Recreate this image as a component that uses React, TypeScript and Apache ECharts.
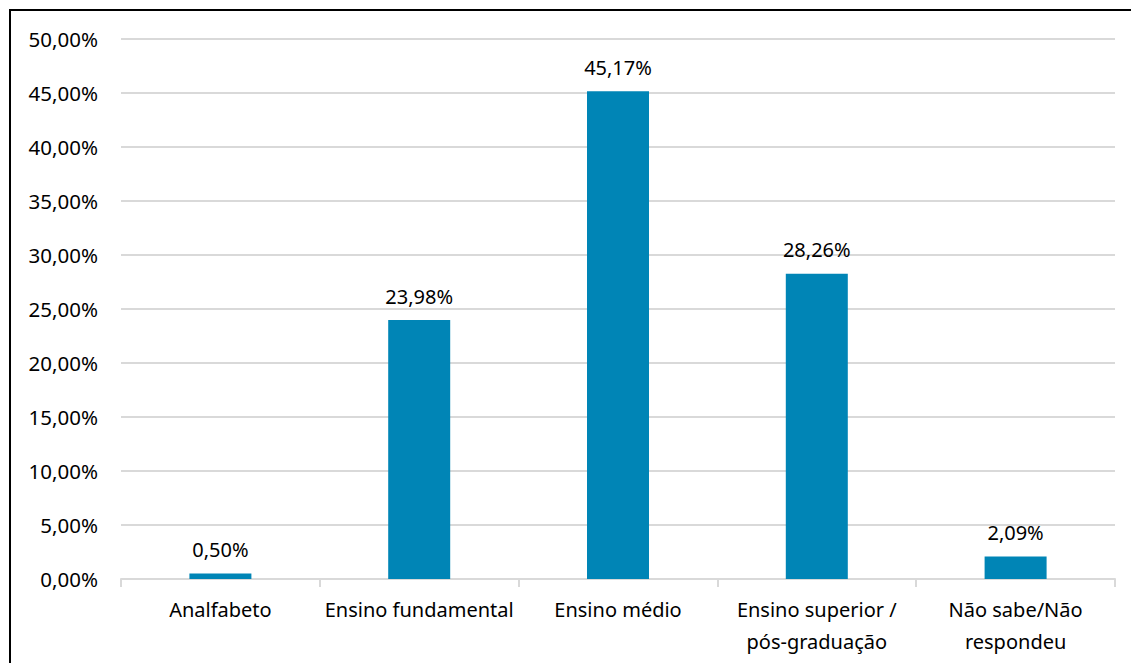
import React, { useEffect, useRef } from "react";
import * as echarts from "echarts";

const categories = [
  "Analfabeto",
  "Ensino fundamental",
  "Ensino médio",
  "Ensino superior /\npós-graduação",
  "Não sabe/Não\nrespondeu",
];
const values = [0.5, 23.98, 45.17, 28.26, 2.09];
const yTicks = { min: 0, max: 50, interval: 5 };

const fmt = (v: number) => v.toFixed(2).replace(".", ",") + "%";
const FONT = "'Noto Sans', 'Open Sans', sans-serif";

export default function App() {
  const ref = useRef<HTMLDivElement>(null);
  useEffect(() => {
    if (!ref.current) return;
    const chart = echarts.init(ref.current, undefined, { renderer: "svg" });
    chart.setOption({
      animation: false,
      backgroundColor: "#ffffff",
      textStyle: { fontFamily: FONT },
      grid: { left: 121, right: 16, top: 39, bottom: 84, containLabel: false },
      graphic: [
        {
          type: "rect",
          shape: { x: 10, y: 10, width: 1130, height: 700 },
          style: { fill: "none", stroke: "#000000", lineWidth: 2 },
          silent: true,
        },
      ],
      xAxis: {
        type: "category",
        data: categories,
        boundaryGap: true,
        axisLine: { show: true, lineStyle: { color: "#d9d9d9", width: 2 } },
        axisTick: { show: true, alignWithLabel: false, length: 8, lineStyle: { color: "#d9d9d9", width: 2 } },
        axisLabel: {
          color: "#000000",
          fontFamily: FONT,
          fontSize: 20,
          margin: 14,
          lineHeight: 32,
          interval: 0,
        },
      },
      yAxis: {
        type: "value",
        min: yTicks.min,
        max: yTicks.max,
        interval: yTicks.interval,
        axisLine: { show: false },
        axisTick: { show: false },
        splitLine: { lineStyle: { color: "#d9d9d9", width: 2 } },
        axisLabel: {
          color: "#000000",
          fontFamily: FONT,
          fontSize: 20.5,
          margin: 23,
          formatter: (v: number) => fmt(v),
        },
      },
      series: [
        {
          type: "bar",
          data: values,
          barWidth: 62,
          itemStyle: { color: "#0085b6" },
          label: {
            show: true,
            position: "top",
            distance: 14,
            color: "#000000",
            fontFamily: FONT,
            fontSize: 20,
            formatter: (p: any) => fmt(p.value),
          },
        },
      ],
    });
    return () => chart.dispose();
  }, []);
  return (
    <div
      ref={ref}
      style={{ position: "fixed", left: 0, top: 0, width: 1131, height: 663 }}
    />
  );
}
